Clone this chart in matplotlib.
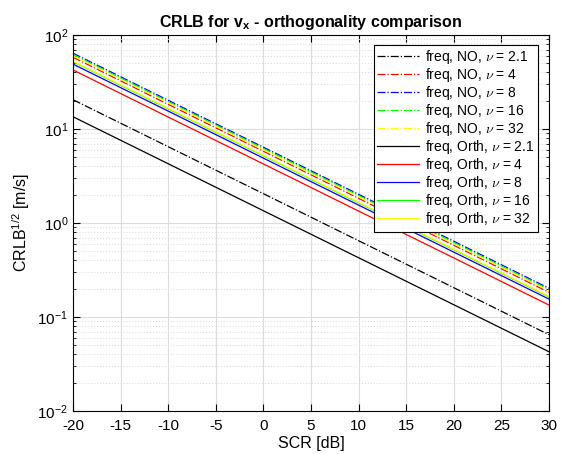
import matplotlib
matplotlib.use("Agg")
import matplotlib.pyplot as plt
from matplotlib.font_manager import FontProperties
import numpy as np

plt.rcParams['font.family'] = ['Liberation Sans', 'DejaVu Sans']
plt.rcParams['mathtext.fontset'] = 'custom'
plt.rcParams['mathtext.rm'] = 'Liberation Sans'
plt.rcParams['mathtext.it'] = 'Liberation Sans:italic'
plt.rcParams['mathtext.bf'] = 'Liberation Sans:bold'
plt.rcParams['axes.unicode_minus'] = False

scr_db = [-20, -10, 0, 10, 20, 30]
nu_labels = ['2.1', '4', '8', '16', '32']
colors = ['black', 'red', 'blue', (0, 1, 0), (1, 1, 0)]

crlb_no = [
    [20.5, 6.48, 2.05, 0.648, 0.205, 0.0648],
    [58.0, 18.3, 5.80, 1.83, 0.580, 0.183],
    [64.0, 20.2, 6.40, 2.02, 0.640, 0.202],
    [62.0, 19.6, 6.20, 1.96, 0.620, 0.196],
    [60.0, 19.0, 6.00, 1.90, 0.600, 0.190],
]
crlb_orth = [
    [13.5, 4.27, 1.35, 0.427, 0.135, 0.0427],
    [42.5, 13.4, 4.25, 1.34, 0.425, 0.134],
    [49.0, 15.5, 4.90, 1.55, 0.490, 0.155],
    [52.0, 16.4, 5.20, 1.64, 0.520, 0.164],
    [52.5, 16.6, 5.25, 1.66, 0.525, 0.166],
]

fig = plt.figure(figsize=(5.62, 4.54), dpi=100)
ax = fig.add_axes([73/562, 43/454, 476/562, 376/454])

for lab, c, ys in zip(nu_labels, colors, crlb_no):
    ax.semilogy(scr_db, ys, linestyle='-.', color=c, lw=0.9,
                label=r'freq, NO, $\nu$ = ' + lab)
for lab, c, ys in zip(nu_labels, colors, crlb_orth):
    ax.semilogy(scr_db, ys, linestyle='-', color=c, lw=0.9,
                label=r'freq, Orth, $\nu$ = ' + lab)

ax.set_xlim(-20, 30)
ax.set_ylim(1e-2, 1e2)
ax.set_xticks(np.arange(-20, 31, 5))
ax.grid(True, which='major', color='#dcdcdc', lw=0.8, ls='-')
ax.grid(True, which='minor', color='#dcdcdc', lw=0.8, ls=':')
ax.set_axisbelow(True)
ax.tick_params(which='both', direction='in', top=True, right=True, labelsize=11)
ax.tick_params(which='major', length=5)
ax.tick_params(which='minor', length=2.5)
ax.tick_params(axis='x', pad=6)
for s in ax.spines.values():
    s.set_linewidth(0.8)

ax.set_xlabel('SCR [dB]', fontsize=11.5, labelpad=2)
ax.set_ylabel(r'CRLB$^{1/2}$ [m/s]', fontsize=11.5, labelpad=4)
ax.set_title(r'CRLB for v$_\mathbf{x}$ - orthogonality comparison', fontsize=11.5,
             fontweight='bold', pad=6)

legprop = FontProperties(family=['Liberation Sans', 'DejaVu Sans'], size=10,
                         math_fontfamily='cm')
leg = ax.legend(loc='upper right', bbox_to_anchor=(0.985, 0.985), prop=legprop,
                fancybox=False, edgecolor='black', framealpha=1,
                handlelength=3.0, labelspacing=0.0, borderpad=0.25,
                handletextpad=0.4, borderaxespad=0.3)
leg.get_frame().set_linewidth(0.8)

fig.savefig('out.png', dpi=100)
